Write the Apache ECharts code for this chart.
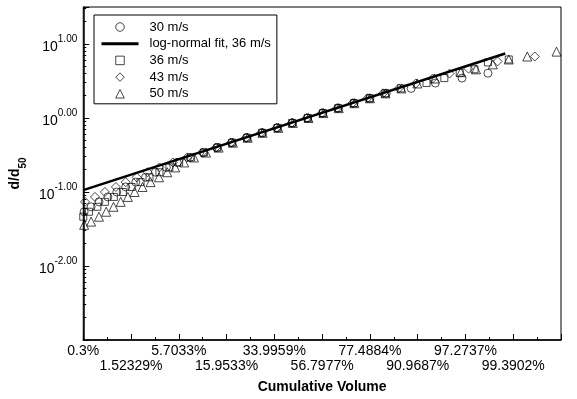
<!DOCTYPE html>
<html>
<head>
<meta charset="utf-8">
<script src="https://cdn.jsdelivr.net/npm/echarts@6/dist/echarts.min.js"></script>
<style>
  html, body { margin: 0; padding: 0; background: #fff; }
  #chart { width: 577px; height: 399px; }
</style>
</head>
<body>
<div id="chart"></div>
<script>
// cumulative volume (%) and d/d50 for each wind speed
const vol30 = [0.31, 0.40, 0.53, 0.72, 0.97, 1.29, 1.76, 2.35, 3.10, 4.16, 5.48, 7.45, 10.0, 13.3, 17.5, 22.6, 28.9, 35.2, 42.5, 49.6, 57.1, 64.5, 71.3, 77.5, 83.0, 89.6, 94.0, 97.0, 98.6];
const d30 = [0.0541, 0.0631, 0.0736, 0.0858, 0.100, 0.117, 0.136, 0.158, 0.185, 0.215, 0.251, 0.293, 0.341, 0.398, 0.464, 0.541, 0.631, 0.736, 0.858, 1.0, 1.166, 1.359, 1.585, 1.848, 2.154, 2.512, 2.97, 3.46, 4.03];

const vol36 = [0.30, 0.37, 0.50, 0.65, 0.88, 1.18, 1.55, 2.03, 2.63, 3.46, 4.50, 5.75, 7.64, 10.15, 13.4, 17.7, 22.9, 28.6, 35.5, 42.2, 49.9, 57.2, 64.3, 71.2, 77.4, 82.7, 87.2, 92.6, 95.2, 96.8, 97.9, 98.6, 99.29];
const d36 = [0.0464, 0.0541, 0.0631, 0.0736, 0.0858, 0.100, 0.117, 0.136, 0.158, 0.185, 0.215, 0.251, 0.293, 0.341, 0.398, 0.464, 0.541, 0.631, 0.736, 0.858, 1.0, 1.166, 1.359, 1.585, 1.848, 2.154, 2.512, 2.97, 3.46, 4.09, 4.55, 5.64, 6.18];

const vol43 = [0.32, 0.46, 0.65, 0.94, 1.29, 1.81, 2.49, 3.46, 4.91, 6.96, 9.8, 13.0, 17.3, 22.4, 28.3, 35.0, 42.0, 49.4, 56.7, 63.8, 70.6, 76.6, 82.0, 86.6, 90.6, 93.6, 95.8, 97.5, 98.97, 99.72];
const d43 = [0.0736, 0.0858, 0.100, 0.117, 0.136, 0.158, 0.185, 0.215, 0.251, 0.293, 0.341, 0.398, 0.464, 0.541, 0.631, 0.736, 0.858, 1.0, 1.166, 1.359, 1.585, 1.848, 2.154, 2.512, 2.929, 3.415, 3.981, 4.642, 5.82, 6.78];

const vol50 = [0.31, 0.40, 0.53, 0.68, 0.87, 1.10, 1.38, 1.70, 2.15, 2.71, 3.42, 4.26, 5.22, 6.49, 8.16, 10.6, 13.7, 17.9, 23.0, 28.9, 35.8, 42.6, 50.2, 57.4, 64.6, 71.4, 77.5, 82.8, 87.3, 90.9, 93.9, 96.9, 97.99, 98.80, 99.29, 99.63, 99.88];
const d50 = [0.036, 0.0398, 0.0464, 0.0541, 0.0631, 0.0736, 0.0858, 0.100, 0.117, 0.136, 0.158, 0.185, 0.215, 0.251, 0.293, 0.341, 0.398, 0.464, 0.541, 0.631, 0.736, 0.858, 1.0, 1.166, 1.359, 1.585, 1.848, 2.154, 2.512, 2.929, 3.415, 4.16, 4.55, 5.31, 6.18, 6.78, 7.89];

// log-normal fit for 36 m/s
const fitVol = [0.3, 99.2];
const fitD = [0.106, 7.43];

const xTickLabels = ['0.3%', '1.52329%', '5.7033%', '15.9533%', '33.9959%', '56.7977%', '77.4884%', '90.9687%', '97.2737%', '99.3902%', '99.9%'];

const FONT = 'Liberation Sans, Arial, Helvetica, sans-serif';

// square-box icons so the legend keeps their shape
const SQUARE = 'path://M0,0L10,0L10,10L0,10Z';
const DIAMOND = 'path://M5,0L10,5L5,10L0,5Z';
const TRIANGLE = 'path://M5,0L10,10L0,10Z';

// inverse normal cdf (Acklam)
function probit(p) {
  const a = [-39.69683028665376, 220.9460984245205, -275.9285104469687, 138.3577518672690, -30.66479806614716, 2.506628277459239];
  const b = [-54.47609879822406, 161.5858368580409, -155.6989798598866, 66.80131188771972, -13.28068155288572];
  const c = [-0.007784894002430293, -0.3223964580411365, -2.400758277161838, -2.549732539343734, 4.374664141464968, 2.938163982698783];
  const d = [0.007784695709041462, 0.3224671290700398, 2.445134137142996, 3.754408661907416];
  const pl = 0.02425;
  let q, r;
  if (p < pl) {
    q = Math.sqrt(-2 * Math.log(p));
    return (((((c[0] * q + c[1]) * q + c[2]) * q + c[3]) * q + c[4]) * q + c[5]) /
      ((((d[0] * q + d[1]) * q + d[2]) * q + d[3]) * q + 1);
  }
  if (p > 1 - pl) {
    q = Math.sqrt(-2 * Math.log(1 - p));
    return -(((((c[0] * q + c[1]) * q + c[2]) * q + c[3]) * q + c[4]) * q + c[5]) /
      ((((d[0] * q + d[1]) * q + d[2]) * q + d[3]) * q + 1);
  }
  q = p - 0.5;
  r = q * q;
  return (((((a[0] * r + a[1]) * r + a[2]) * r + a[3]) * r + a[4]) * r + a[5]) * q /
    (((((b[0] * r + b[1]) * r + b[2]) * r + b[3]) * r + b[4]) * r + 1);
}

// probability axis: 0.3% .. 99.9% split into 10 equal steps of z
const Z0 = probit(0.003);
const Z1 = probit(0.999);
const STEP = (Z1 - Z0) / 10;
const toU = pct => (probit(pct / 100) - Z0) / STEP;
const pairs = (vol, dd) => vol.map((p, i) => [toU(p), dd[i]]);

const markerStyle = { color: 'transparent', borderColor: '#000', borderWidth: 0.9 };

const chart = echarts.init(document.getElementById('chart'));
chart.setOption({
  animation: false,
  textStyle: { fontFamily: FONT },
  grid: { left: 78, right: 16, top: 7, bottom: 56, show: true, borderColor: '#000', borderWidth: 1 },
  legend: {
    orient: 'vertical',
    left: 94,
    top: 15,
    data: [
      { name: '30 m/s' },
      { name: 'log-normal fit, 36 m/s', lineStyle: { width: 3 } },
      { name: '36 m/s', icon: SQUARE },
      { name: '43 m/s', icon: DIAMOND },
      { name: '50 m/s', icon: TRIANGLE }
    ],
    backgroundColor: '#fff',
    borderColor: '#000',
    borderWidth: 1,
    borderRadius: 0,
    padding: [5, 6, 3, 6],
    itemWidth: 37,
    itemHeight: 8.5,
    itemGap: 2.7,
    itemStyle: { borderWidth: 0.9 },
    selectedMode: false,
    symbolKeepAspect: true,
    textStyle: { fontFamily: FONT, fontSize: 13, color: '#000', lineHeight: 14, padding: [0, 0, 0, 6] }
  },
  xAxis: {
    type: 'value',
    min: 0,
    max: 10,
    interval: 1,
    axisLine: { lineStyle: { color: '#000', width: 1.5 } },
    axisTick: { inside: true, length: 6, lineStyle: { color: '#000' } },
    minorTick: { show: true, splitNumber: 2, length: 3, lineStyle: { color: '#000' } },
    splitLine: { show: false },
    axisLabel: {
      color: '#000',
      fontSize: 14,
      lineHeight: 15,
      margin: 4,
      formatter: v => {
        const i = Math.round(v);
        return i % 2 ? '\n' + xTickLabels[i] : xTickLabels[i];
      }
    },
    name: 'Cumulative Volume',
    nameLocation: 'middle',
    nameGap: 40,
    nameTextStyle: { color: '#000', fontSize: 14, fontWeight: 'bold' }
  },
  yAxis: {
    type: 'log',
    logBase: 10,
    min: 0.001,
    max: Math.pow(10, 1.5),
    axisLine: { show: true, lineStyle: { color: '#000', width: 1.5 } },
    axisTick: { inside: true, length: 6, lineStyle: { color: '#000' } },
    minorTick: { show: true, splitNumber: 9, length: 3, lineStyle: { color: '#000' } },
    splitLine: { show: false },
    axisLabel: {
      margin: 6,
      formatter: v => {
        const e = Math.log10(v);
        const r = Math.round(e);
        if (Math.abs(e - r) > 1e-6 || r <= -3) return '';
        return '{b|10}{s|' + r.toFixed(2) + '}';
      },
      rich: {
        b: { fontSize: 14, color: '#000', lineHeight: 20, verticalAlign: 'bottom' },
        s: { fontSize: 10, color: '#000', lineHeight: 20, verticalAlign: 'top' }
      }
    },
    name: '{n|d/d}{s|50}',
    nameLocation: 'middle',
    nameGap: 46,
    nameRotate: 90,
    nameTextStyle: {
      rich: {
        n: { fontSize: 14, fontWeight: 'bold', color: '#000', lineHeight: 20, verticalAlign: 'top' },
        s: { fontSize: 10, fontWeight: 'bold', color: '#000', lineHeight: 20, verticalAlign: 'bottom' }
      }
    }
  },
  series: [
    { name: '30 m/s', type: 'scatter', symbol: 'circle', symbolSize: 8, data: pairs(vol30, d30), itemStyle: markerStyle },
    {
      name: 'log-normal fit, 36 m/s', type: 'line', symbol: 'none', data: pairs(fitVol, fitD),
      lineStyle: { color: '#000', width: 2.5 }, itemStyle: { color: 'transparent', borderColor: 'transparent' }, z: 3
    },
    { name: '36 m/s', type: 'scatter', symbol: 'rect', symbolSize: 7, data: pairs(vol36, d36), itemStyle: markerStyle },
    { name: '43 m/s', type: 'scatter', symbol: 'diamond', symbolSize: 9, data: pairs(vol43, d43), itemStyle: markerStyle },
    { name: '50 m/s', type: 'scatter', symbol: 'triangle', symbolSize: 9, data: pairs(vol50, d50), itemStyle: markerStyle }
  ]
});
</script>
</body>
</html>
